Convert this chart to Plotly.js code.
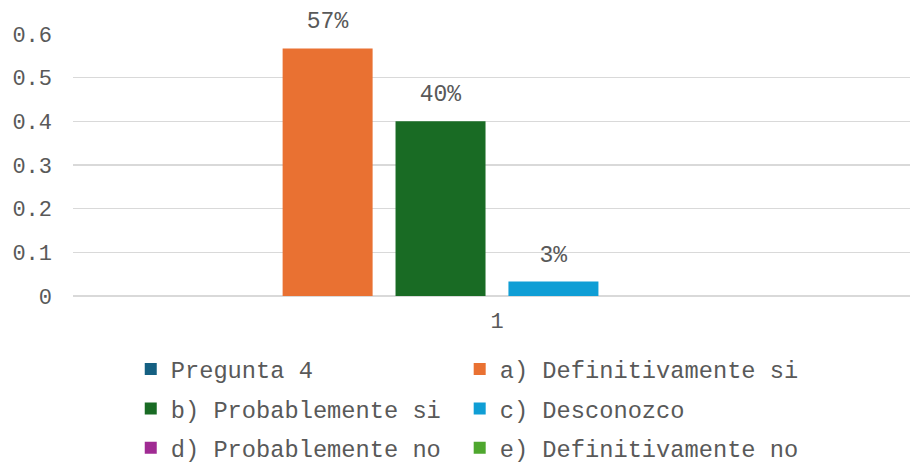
<!DOCTYPE html>
<html>
<head>
<meta charset="utf-8">
<script src="https://cdn.plot.ly/plotly-3.0.1.min.js"></script>
<style>html,body{margin:0;padding:0;background:#fff;}#chart{width:910px;height:470px;}</style>
</head>
<body>
<div id="chart"></div>
<script>
// Data
var categories = ['1'];
var seriesNames = ['Pregunta 4', 'a) Definitivamente si', 'b) Probablemente si', 'c) Desconozco', 'd) Probablemente no', 'e) Definitivamente no'];
var seriesValues = [0, 0.567, 0.40, 0.033, 0, 0];
var seriesLabels = ['', '57%', '40%', '3%', '', ''];
var seriesColors = ['#156082', '#E97132', '#196B24', '#0F9ED5', '#A02B93', '#4EA72E'];
var yTickVals = [0, 0.1, 0.2, 0.3, 0.4, 0.5, 0.6];
var yTickText = ['0', '0.1', '0.2', '0.3', '0.4', '0.5', '0.6'];

var FONT = '"Liberation Mono", "Courier New", monospace';
var TXT = '#595959';
var legendIds = ['legend', 'legend2', 'legend3', 'legend4', 'legend5', 'legend6'];
var legendCols = [0.069, 0.462];
var legendRows = [-0.2786, -0.4294, -0.664];
var legendAnchors = ['middle', 'middle', 'bottom'];

var traces = seriesNames.map(function (name, i) {
  return {
    type: 'bar',
    name: name,
    x: categories,
    y: [seriesValues[i]],
    text: [seriesLabels[i]],
    textposition: 'outside',
    textfont: {family: FONT, size: 23, color: TXT},
    cliponaxis: false,
    marker: {color: seriesColors[i]},
    legend: legendIds[i],
    hoverinfo: 'skip'
  };
});

function legendAt(x, y, ya) {
  return {
    orientation: 'h', x: x, xanchor: 'left', y: y, yanchor: ya,
    font: {family: FONT, size: 23.7, color: TXT},
    bgcolor: 'rgba(0,0,0,0)', traceorder: 'normal'
  };
}

var layout = {
  width: 910, height: 470,
  margin: {l: 73, r: 0, t: 34, b: 174, pad: 0, autoexpand: false},
  paper_bgcolor: '#ffffff', plot_bgcolor: '#ffffff',
  barmode: 'group', bargap: 0.203, bargroupgap: 0.203,
  font: {family: FONT, size: 22, color: TXT},
  xaxis: {
    type: 'category', range: [-0.4988, 0.4859],
    showgrid: false, zeroline: false, showline: false,
    ticks: '', tickfont: {family: FONT, size: 22, color: TXT},
    ticklabelstandoff: 9, fixedrange: true, automargin: false
  },
  yaxis: {
    range: [0, 0.6], tickvals: yTickVals, ticktext: yTickText,
    showgrid: true, gridcolor: '#D9D9D9', gridwidth: 1.3,
    zeroline: true, zerolinecolor: '#D9D9D9', zerolinewidth: 1.3,
    showline: false, ticks: '', ticklabelstandoff: 20,
    tickfont: {family: FONT, size: 22, color: TXT}, fixedrange: true, automargin: false
  },
  showlegend: true
};
legendIds.forEach(function (id, i) {
  var r = Math.floor(i / 2);
  layout[id] = legendAt(legendCols[i % 2], legendRows[r], legendAnchors[r]);
});

Plotly.newPlot('chart', traces, layout, {displayModeBar: false, staticPlot: true}).then(function (gd) {
  // Excel-style label offset above the bars
  var nodes = gd.querySelectorAll('.bartext');
  nodes.forEach(function (n) {
    var t = n.getAttribute('transform') || '';
    n.setAttribute('transform', t + ' translate(0,-10)');
  });
});
</script>
</body>
</html>
